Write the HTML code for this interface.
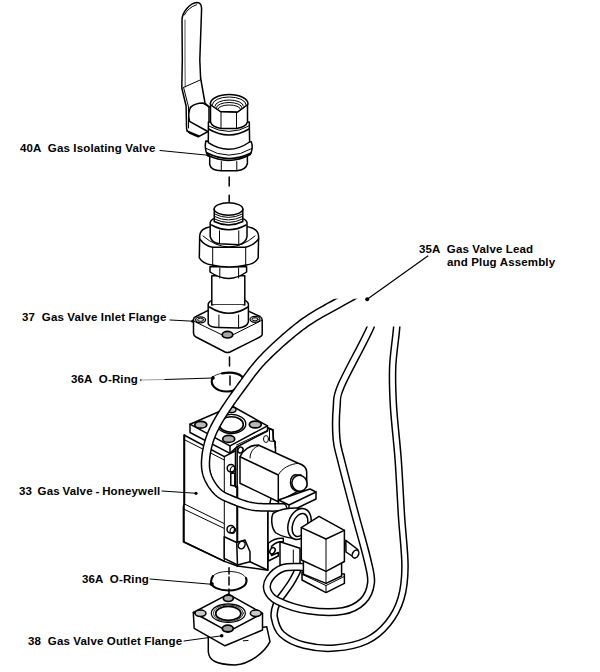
<!DOCTYPE html>
<html><head><meta charset="utf-8">
<style>
html,body{margin:0;padding:0;background:#fff;}
body{width:600px;height:672px;position:relative;overflow:hidden;font-family:"Liberation Sans",sans-serif;}
.t{position:absolute;font-weight:bold;font-size:11.5px;line-height:11px;color:#000;white-space:pre;letter-spacing:0.15px;}
svg{position:absolute;left:0;top:0;}
.d{stroke-width:1;}
.w{fill:#fff;}
</style></head><body>
<div class="t" id="l40" style="left:20px;top:142.5px">40A  Gas Isolating Valve</div>
<div class="t" id="l37" style="left:22px;top:311.5px">37  Gas Valve Inlet Flange</div>
<div class="t" id="l36a" style="left:71px;top:374px">36A  O-Ring</div>
<div class="t" id="l33" style="left:19px;top:486px;word-spacing:-0.6px">33  Gas Valve - Honeywell</div>
<div class="t" id="l36b" style="left:82px;top:574px">36A  O-Ring</div>
<div class="t" id="l38" style="left:28px;top:635.5px">38  Gas Valve Outlet Flange</div>
<div class="t" id="l35" style="left:419px;top:243.5px">35A  Gas Valve Lead</div>
<div class="t" id="l35b" style="left:447px;top:257px">and Plug Assembly</div>
<svg width="600" height="672" viewBox="0 0 600 672" fill="none" stroke="#000" stroke-width="1.5" stroke-linecap="round" stroke-linejoin="round">
<!-- ===== ISOLATING VALVE ===== -->
<g id="handle">
<path class="w" d="M182.3,60 L182,20 C182,12 190,3 197,2.5 C201,2.5 202,6 201.5,12 L199.8,60 L200.6,78 L205,103 L209,107 L209,131 L198.2,136.8 L189.5,133 Q186.6,131 186.6,129 L186.1,106 L181.8,88 Z"/>
<path class="d" d="M184.3,15 C187,10 191,6.5 196.5,4.8"/>
<path class="d" d="M185,20 L185,60 L185.2,87" stroke="#555"/>
<path class="d" d="M183.2,87.6 L200.6,79.8"/>
<path class="d" d="M183.7,88 L188.5,107 L188.5,128"/>
<path d="M190.5,107.4 C193,105 198,103 203,103 L209.3,106.9"/>
<path d="M190.5,107.4 C188.5,111 188.8,118 189.5,121.4 L206.9,131"/>
<path d="M187,131 L199,136"/>
</g>
<g id="valve40">
<!-- body lower flange and hex -->
<path class="w" d="M209.7,156 L209.7,164.5 Q211,170.5 221.3,170.8 L236.8,170.8 Q246,170 247.4,163.5 L247.4,156 Z"/>
<path class="d" d="M221.3,161.5 L221.3,170.8 M236.8,161.5 L236.8,170.8"/>
<path class="w" d="M205.8,141 C205,145 205,150 207.3,155 Q229,166 250.3,154.5 C252.5,150 252.5,145 251.3,141.8 Z"/>
<path class="d" d="M206.3,148.5 Q229,162 251.8,148.5"/>
<path d="M207.3,153 Q229,164 251,153" stroke-width="1.7"/>
<path class="w" d="M208.4,122 L208.3,142.7 Q229,156.3 249.6,142 L249.3,122 Z"/>
<path class="d" d="M208.6,126 Q229,137 249,126"/>
<path d="M208.6,129 Q229,141 249,129"/>
<!-- hex -->
<path class="w" d="M210.5,103 L210.5,122 Q212,127 221,128.5 L236.5,128.5 Q246,127 247.5,122 L247.5,104 Z"/>
<path d="M211,105 L220.5,111.5 L237.5,112 L247,105"/>
<path class="d" d="M221,112 L221,128.5 M236.5,112 L236.5,128.5"/>
<!-- top rim -->
<path class="w" d="M210.4,104 A18.8,9.5 0 0 1 248,104 L247,105 L237.5,112 L220.5,111.5 L211,105 Z"/>
<path class="d" d="M212.4,104.5 A16.8,7.5 0 0 1 246,104.5"/>
<path class="d" d="M215,106 A14.2,6 0 0 1 243.4,106 M216.5,107.5 A12.7,5 0 0 1 241.9,107.5 M218,109 A11.2,4 0 0 1 240.4,109"/>
</g>
<path class="d" d="M160,150.5 L208.5,155.3"/>
<circle cx="208.5" cy="155.3" r="1.6" fill="#000" stroke="none"/>
<path d="M229.2,177 L229.2,186 M229.2,195.3 L229.2,204.6"/>
<!-- ===== INLET FLANGE / UNION ===== -->
<g id="union">
<!-- flange plate -->
<path class="w" d="M193.5,319.5 Q193.5,317.5 196,316.5 L207.7,310.6 L247.3,310.6 L260,316.5 Q262.2,318 262.2,320 L262.2,334.7 Q262,336 259,337.5 L230,352 Q227.5,353 225,352 L196,337 Q193.5,335.5 193.5,333 Z"/>
<path class="d" d="M194.5,321.5 L227.5,337.5 L261.5,320.5"/>
<ellipse cx="200.6" cy="319.8" rx="5" ry="3" stroke-width="1.2" fill="#e0e0e0"/>
<ellipse class="d" cx="200.6" cy="319.8" rx="3" ry="1.6"/>
<ellipse cx="255" cy="319.3" rx="5" ry="3" stroke-width="1.2" fill="#e0e0e0"/>
<ellipse class="d" cx="255" cy="319.3" rx="3" ry="1.6"/>
<ellipse cx="227.5" cy="334.7" rx="5.3" ry="3.3" stroke-width="1.7" fill="#a8a8a8"/>
<!-- lower hex -->
<path class="w" d="M208.2,304 Q210,298 228.75,297.5 Q247,298 248.4,304 L248.4,322 Q247,327 238.6,328 L218.9,327.5 Q210,327.5 208.2,323.9 Z"/>
<path d="M209.5,307 Q228.75,319.4 248,307"/>
<path class="d" d="M218.9,315 L218.9,327.5 M238.6,315 L238.6,328"/>
<!-- pipe -->
<path class="w" d="M211.8,275.7 L211.8,305 L244.8,305 L244.8,275.7 Z"/>
<path d="M211.8,305 Q228,312 244.8,305" stroke="none" class="w"/>
<!-- neck -->
<path class="w" d="M210,266.8 L210,272 Q228.75,284.8 246.6,272 L246.6,266.8 Z"/>
<path class="d" d="M219.8,268 L219.8,278 M238.6,268 L238.6,278"/>
<!-- big union nut -->
<path class="w" d="M199.7,236 C200,229 206,225.5 229,225 C252,225.5 258,229 258.6,236 L258.2,257.9 Q255,264 246.6,265 Q229,269 211.8,265 Q203,264 199.3,257.9 Z"/>
<path class="d" d="M203,236 Q229,258 255,236"/>
<path d="M199.7,239 Q205,246 212.5,247.2 L245.2,247.2 Q253,246 258.6,239"/>
<path class="d" d="M212.7,247.2 L212.7,265 M245.7,247.2 L245.7,265"/>
<!-- small hex -->
<path class="w" d="M210.2,222.5 Q211,217 228,216.5 Q246,217 247,222.5 L247,236.7 Q246,243 238.75,244.8 L219.5,243.7 Q212,243 210.2,236.7 Z"/>
<path d="M211.5,225 Q228.8,234.5 246,225"/>
<path class="d" d="M219.5,230.8 L219.5,243.7 M238.75,230.8 L238.75,244.8"/>
<!-- nipple -->
<path class="w" d="M214.25,209 L214.25,221.5 Q228.5,228.5 242.8,221.5 L242.8,209 Z"/>
<ellipse class="w" cx="228.5" cy="209" rx="14.3" ry="6.2"/>
<path class="d" d="M214.5,214 Q228.5,221 242.5,214 M214.5,216.5 Q228.5,223.5 242.5,216.5 M214.5,219 Q228.5,226 242.5,219"/>
</g>
<path class="d" d="M170,320 L192.8,321.2"/>
<circle cx="192.8" cy="321.2" r="1.6" fill="#000" stroke="none"/>
<path d="M229.5,357 L229.5,366"/>
<!-- O-ring top -->
<path d="M213,377 C215,375 218,374 222,373.3" stroke-width="0.8"/>
<path d="M222,373.3 C230,372 238,373 242,376.5 C246,382 240,391.5 227.2,391.5 C215,391.5 209,384 213,377" stroke-width="2.2"/>
<path d="M230,376 L230,385"/>
<path d="M141,380 L165,379.5" stroke="#888" stroke-width="0.8"/>
<path d="M165,379.5 L213,378" stroke-width="1.1"/>
<circle cx="140.8" cy="380" r="0.8" fill="#000" stroke="none"/>
<circle cx="213" cy="378" r="1.8" fill="#000" stroke="none"/>

<!-- ===== GAS VALVE BODY ===== -->
<g id="gv">
<!-- left block -->
<path class="w" d="M184,435 L224.3,456.7 L237,450 L237.4,566 L224.5,561.4 L184,542 Z"/>
<path class="d" d="M184,439.5 L224.3,460"/>
<path class="d" d="M184.5,504 L224,523.5 M183.6,509 L224,528.3"/>
<path class="d" d="M224.3,456.7 L224.3,561.4"/>
<path d="M184.5,435 L184.5,503.5 L183.4,506.5 L183.4,541.7 L224.5,561.4"/>
<!-- front body -->
<path class="w" d="M235.6,447 L268,428 L273,430 L273.5,440 L275,441.5 L275.5,450 L275,480 L268,512 L268,570.3 L237.4,566 L237.4,487 L235.6,487 Z"/>
<path d="M250,561.7 L267.5,570"/>
<path class="d" d="M267.5,512.8 L267.5,570.3"/>
<path d="M235.6,447 L235.6,487 M237.4,486 L237.4,566"/>
<path class="d" d="M237.4,447 L237.4,486"/>
<path d="M235.8,445 L268,428 L273,430 L273.3,440 L275,441.5 L275.5,448"/>
<path class="d" d="M269.5,429 L269.5,441 L275,441.5"/>
<ellipse class="d" cx="266" cy="439" rx="2.5" ry="3.5"/>
<!-- top plate -->
<path class="w" d="M190,424.2 L232,406 L267.5,425.8 L267.5,431 L236.7,447 L230,453.3 L190,432.5 Z"/>
<path d="M190,424.2 L230,445.8 L267.5,425.8"/>
<path d="M230,445.8 L230,453.3"/>
<path class="d" d="M236.7,445 L268.3,430"/>
<ellipse cx="231.3" cy="424" rx="14.5" ry="9.6" stroke-width="1.4"/>
<ellipse cx="231.3" cy="424.5" rx="12" ry="7.8" stroke-width="1.6"/>
<ellipse cx="200.8" cy="424.7" rx="6" ry="3.4" fill="#b8b8b8" stroke-width="1.7"/>
<ellipse cx="231.5" cy="409.8" rx="4.5" ry="2.7" fill="#c8c8c8" stroke-width="1.4"/>
<ellipse cx="255.3" cy="424.5" rx="6" ry="3.4" fill="#b8b8b8" stroke-width="1.7"/>
<ellipse cx="228.7" cy="438.9" rx="6" ry="3.5" fill="#b0b0b0" stroke-width="1.7"/>
<!-- knobs on front strip -->
<path class="w" d="M230.8,473.3 L230.8,485.2 L234.8,486 L234.8,473.3 Z"/>
<ellipse class="w" cx="231" cy="468.3" rx="3.8" ry="3.8"/>
<ellipse class="d" cx="233" cy="469.5" rx="2.6" ry="3" transform="rotate(30 233 469.5)"/>
<ellipse class="w" cx="240.4" cy="450" rx="2.5" ry="3" transform="rotate(30 240.4 450)"/>
<ellipse class="w" cx="230.8" cy="529.2" rx="3.8" ry="3.8"/>
<ellipse class="d" cx="232.8" cy="530.4" rx="2.6" ry="3" transform="rotate(30 232.8 530.4)"/>
<!-- bracket box -->
<path class="w" d="M224.2,536.7 L236.7,542.5 L245,540 L250,551.7 L250,561.7 L237.5,565 L224.2,558.3 Z"/>
<path d="M236.7,542.5 L237.5,565"/>
<ellipse class="w" cx="241.7" cy="545" rx="3.2" ry="4" transform="rotate(30 241.7 545)"/>
<!-- right tab -->
<path class="w" d="M280,541.7 L300,548.3 L300,572 L280,565 Z"/>
<path class="d" d="M293.3,550 L293.3,567"/>
<path class="w" d="M268.3,543.3 C272,540 278,538 283.3,538.3 L283.3,541.5 C279,541.5 274,543.5 271.5,546.5 L271.5,555.5 L278.3,552.5 L278.3,556 L268.3,561 Z"/>
<ellipse class="w" cx="272.5" cy="550.8" rx="2.4" ry="3.4" transform="rotate(30 272.5 550.8)"/>
</g>
<!-- ===== SOLENOID ===== -->
<g id="sol">
<path class="w" d="M240,456.7 C243,450 250,445 258.3,445 L298.3,463.3 C304,465 306.7,468 306.7,472 L306.7,486.7 L278.3,501.7 L240,483.3 Z"/>
<path d="M240,456.7 L278.3,475 L278.3,501.7"/>
<path class="d" d="M278.3,475 C282,468 290,464 298.3,463.3"/>
<path class="d" d="M250,458 C250,452 254,447 258.3,446"/>
<path class="w" d="M297,475 C293,474 290,478 290.5,483 C291,488 294,491 298,491.5 L301,491 L301,475 Z"/>
<ellipse class="w" cx="299.5" cy="483.3" rx="7.5" ry="8" transform="rotate(-20 299.5 483.3)"/>
<!-- bracket slab -->
<path class="w" d="M278.5,500 L310,489 L316,492 L316,499 L289,512 L278.5,507 Z"/>
<path d="M289,505 L316,492 M289,505 L289,512 M278.5,500 L289,505"/>
</g>
<!-- ===== CABLES ===== -->
<path d="M396.7,300.0 C396.7,304.4 397.4,315.6 396.7,326.7 C396.0,337.8 393.2,353.4 392.7,366.7 C392.2,380.0 392.6,391.1 393.5,406.7 C394.4,422.2 396.9,441.8 398.2,460.0 C399.5,478.2 400.4,498.2 401.5,516.0 C402.6,533.8 405.1,552.9 405.0,566.7 C404.9,580.5 403.8,589.3 401.0,598.7 C398.2,608.1 393.7,616.3 388.0,623.3 C382.3,630.3 375.8,636.4 367.0,640.5 C358.2,644.6 345.4,647.2 335.0,648.0 C324.6,648.8 313.2,647.6 304.3,645.3 C295.4,643.0 286.7,638.7 281.7,634.0 C276.7,629.3 275.2,622.3 274.3,617.3 C273.4,612.3 274.9,608.0 276.5,604.0 C278.1,600.0 281.6,596.5 284.0,593.0 C286.4,589.5 289.0,586.2 291.0,583.0 C293.0,579.8 294.8,576.3 296.0,574.0 C297.2,571.7 297.7,569.8 298.0,569.0" stroke-width="7.70" stroke-linecap="butt"/>
<path d="M396.7,300.0 C396.7,304.4 397.4,315.6 396.7,326.7 C396.0,337.8 393.2,353.4 392.7,366.7 C392.2,380.0 392.6,391.1 393.5,406.7 C394.4,422.2 396.9,441.8 398.2,460.0 C399.5,478.2 400.4,498.2 401.5,516.0 C402.6,533.8 405.1,552.9 405.0,566.7 C404.9,580.5 403.8,589.3 401.0,598.7 C398.2,608.1 393.7,616.3 388.0,623.3 C382.3,630.3 375.8,636.4 367.0,640.5 C358.2,644.6 345.4,647.2 335.0,648.0 C324.6,648.8 313.2,647.6 304.3,645.3 C295.4,643.0 286.7,638.7 281.7,634.0 C276.7,629.3 275.2,622.3 274.3,617.3 C273.4,612.3 274.9,608.0 276.5,604.0 C278.1,600.0 281.6,596.5 284.0,593.0 C286.4,589.5 289.0,586.2 291.0,583.0 C293.0,579.8 294.8,576.3 296.0,574.0 C297.2,571.7 297.7,569.8 298.0,569.0" stroke="#fff" stroke-width="4.70" stroke-linecap="butt"/>
<path d="M372.0,310.0 C371.8,312.8 375.8,314.1 370.7,326.7 C365.6,339.2 347.0,372.0 341.3,385.3 C335.6,398.6 337.5,397.8 336.7,406.7 C335.9,415.6 335.8,429.8 336.5,438.7 C337.2,447.6 338.1,448.1 341.0,460.0 C343.9,471.9 349.6,493.3 354.0,510.0 C358.4,526.7 364.7,547.8 367.5,560.0 C370.3,572.2 371.8,576.2 371.0,583.0 C370.2,589.8 367.7,596.3 363.0,601.0 C358.3,605.7 352.1,609.4 343.0,611.0 C333.9,612.6 319.2,612.2 308.3,610.5 C297.4,608.8 284.5,604.3 277.7,601.0 C270.9,597.7 269.0,594.4 267.6,590.7 C266.2,587.0 267.0,582.4 269.6,578.6 C272.2,574.8 277.4,569.9 283.0,568.0 C288.6,566.1 299.7,567.2 303.0,567.0" stroke-width="8.30" stroke-linecap="butt"/>
<path d="M372.0,310.0 C371.8,312.8 375.8,314.1 370.7,326.7 C365.6,339.2 347.0,372.0 341.3,385.3 C335.6,398.6 337.5,397.8 336.7,406.7 C335.9,415.6 335.8,429.8 336.5,438.7 C337.2,447.6 338.1,448.1 341.0,460.0 C343.9,471.9 349.6,493.3 354.0,510.0 C358.4,526.7 364.7,547.8 367.5,560.0 C370.3,572.2 371.8,576.2 371.0,583.0 C370.2,589.8 367.7,596.3 363.0,601.0 C358.3,605.7 352.1,609.4 343.0,611.0 C333.9,612.6 319.2,612.2 308.3,610.5 C297.4,608.8 284.5,604.3 277.7,601.0 C270.9,597.7 269.0,594.4 267.6,590.7 C266.2,587.0 267.0,582.4 269.6,578.6 C272.2,574.8 277.4,569.9 283.0,568.0 C288.6,566.1 299.7,567.2 303.0,567.0" stroke="#fff" stroke-width="5.30" stroke-linecap="butt"/>
<rect x="355" y="290" width="60" height="36.5" fill="#fff" stroke="none"/>
<path d="M369.56,279.64 L368.45,280.26 L367.14,281.00 L365.63,281.85 L363.95,282.79 L362.12,283.82 L360.15,284.92 L358.08,286.09 L355.90,287.31 L353.66,288.58 L351.37,289.88 L349.04,291.20 L346.69,292.53 L344.35,293.87 L342.04,295.20 L339.77,296.51 L337.58,297.79 L335.44,299.03 L333.27,300.25 L331.07,301.48 L328.83,302.71 L326.56,303.96 L324.25,305.23 L321.92,306.53 L319.57,307.85 L317.19,309.21 L314.79,310.61 L312.38,312.06 L309.96,313.57 L307.53,315.13 L305.09,316.76 L302.65,318.46 L300.22,320.23 L297.78,322.08 L295.29,324.01 L292.76,326.03 L290.20,328.12 L287.63,330.26 L285.05,332.46 L282.47,334.69 L279.91,336.95 L277.37,339.22 L274.87,341.50 L272.42,343.78 L270.03,346.03 L267.71,348.26 L265.47,350.45 L263.33,352.59 L261.29,354.67 L259.34,356.72 L257.48,358.75 L255.70,360.75 L254.01,362.73 L252.39,364.70 L250.83,366.64 L249.32,368.56 L247.87,370.47 L246.45,372.37 L245.07,374.25 L243.71,376.12 L242.37,377.99 L241.04,379.85 L239.71,381.71 L238.37,383.56 L237.01,385.43 L235.62,387.34 L234.21,389.28 L232.81,391.23 L231.40,393.20 L230.00,395.18 L228.62,397.16 L227.25,399.13 L225.90,401.10 L224.57,403.05 L223.28,404.98 L222.02,406.89 L220.80,408.76 L219.62,410.60 L218.50,412.40 L217.42,414.15 L216.40,415.85 L215.45,417.48 L214.54,419.06 L213.68,420.59 L212.87,422.07 L212.09,423.53 L211.35,424.95 L210.65,426.35 L209.99,427.73 L209.35,429.10 L208.75,430.46 L208.17,431.82 L207.62,433.17 L207.09,434.54 L206.58,435.91 L206.09,437.30 L205.61,438.72 L205.15,440.17 L204.72,441.64 L204.32,443.12 L203.94,444.60 L203.59,446.09 L203.27,447.58 L202.97,449.05 L202.70,450.53 L202.46,451.98 L202.24,453.43 L202.05,454.85 L201.89,456.25 L201.75,457.62 L201.64,458.96 L201.56,460.27 L201.50,461.54 L201.46,462.77 L201.46,463.97 L201.47,465.14 L201.52,466.29 L201.59,467.42 L201.69,468.53 L201.82,469.62 L201.98,470.70 L202.17,471.76 L202.39,472.81 L202.64,473.85 L202.92,474.88 L203.23,475.90 L203.57,476.93 L203.94,477.94 L204.34,478.97 L204.79,480.02 L205.28,481.09 L205.80,482.14 L206.36,483.20 L206.95,484.24 L207.57,485.28 L208.21,486.30 L208.88,487.31 L209.57,488.30 L210.28,489.27 L211.00,490.22 L211.74,491.14 L212.49,492.02 L213.25,492.88 L214.02,493.69 L214.79,494.47 L215.56,495.19 L216.32,495.87 L217.08,496.50 L217.85,497.10 L218.63,497.65 L219.42,498.18 L220.22,498.67 L221.04,499.13 L221.87,499.58 L222.72,500.00 L223.60,500.41 L224.50,500.82 L225.44,501.23 L226.42,501.65 L227.45,502.08 L228.53,502.52 L229.66,502.99 L230.85,503.48 L232.09,504.00 L233.39,504.53 L234.74,505.07 L236.14,505.61 L237.58,506.16 L239.07,506.70 L240.61,507.23 L242.19,507.74 L243.80,508.23 L245.46,508.69 L247.15,509.13 L248.87,509.52 L250.63,509.87 L252.43,510.18 L254.33,510.43 L256.37,510.64 L258.51,510.79 L260.73,510.92 L263.00,511.01 L265.31,511.07 L267.62,511.10 L269.90,511.12 L272.14,511.13 L274.30,511.12 L276.34,511.11 L278.25,511.10 L280.00,511.08 L281.54,511.08 L282.85,511.08 L283.92,511.10 L284.08,503.90 L282.95,503.87 L281.57,503.86 L279.99,503.85 L278.23,503.85 L276.32,503.85 L274.29,503.85 L272.17,503.84 L269.97,503.81 L267.74,503.78 L265.49,503.72 L263.27,503.65 L261.10,503.54 L259.01,503.41 L257.04,503.25 L255.22,503.05 L253.57,502.82 L252.01,502.55 L250.47,502.22 L248.94,501.86 L247.43,501.46 L245.94,501.03 L244.47,500.57 L243.03,500.09 L241.61,499.59 L240.23,499.08 L238.87,498.55 L237.55,498.03 L236.26,497.50 L235.01,496.98 L233.79,496.46 L232.61,495.96 L231.47,495.48 L230.40,495.03 L229.41,494.60 L228.49,494.20 L227.63,493.82 L226.84,493.46 L226.10,493.10 L225.42,492.75 L224.77,492.40 L224.17,492.05 L223.59,491.69 L223.03,491.31 L222.48,490.91 L221.93,490.48 L221.38,490.01 L220.80,489.50 L220.21,488.93 L219.61,488.32 L219.00,487.66 L218.38,486.95 L217.76,486.21 L217.15,485.43 L216.54,484.63 L215.95,483.80 L215.37,482.95 L214.81,482.09 L214.27,481.21 L213.75,480.33 L213.26,479.45 L212.81,478.58 L212.39,477.71 L212.00,476.86 L211.66,476.03 L211.34,475.19 L211.04,474.36 L210.78,473.54 L210.54,472.72 L210.33,471.91 L210.14,471.10 L209.97,470.27 L209.83,469.44 L209.71,468.59 L209.61,467.73 L209.54,466.83 L209.49,465.91 L209.46,464.96 L209.45,463.97 L209.47,462.93 L209.50,461.86 L209.56,460.74 L209.65,459.58 L209.76,458.38 L209.89,457.15 L210.05,455.88 L210.23,454.59 L210.44,453.28 L210.67,451.95 L210.93,450.61 L211.21,449.26 L211.51,447.91 L211.84,446.57 L212.19,445.23 L212.57,443.90 L212.96,442.58 L213.39,441.28 L213.83,440.00 L214.29,438.73 L214.76,437.48 L215.25,436.24 L215.76,435.01 L216.30,433.79 L216.86,432.55 L217.45,431.30 L218.08,430.04 L218.73,428.75 L219.43,427.42 L220.17,426.06 L220.96,424.66 L221.79,423.21 L222.67,421.71 L223.60,420.15 L224.58,418.54 L225.62,416.87 L226.72,415.14 L227.88,413.37 L229.08,411.56 L230.32,409.71 L231.60,407.83 L232.91,405.93 L234.25,404.01 L235.62,402.07 L236.99,400.14 L238.39,398.20 L239.79,396.27 L241.19,394.35 L242.59,392.45 L243.99,390.57 L245.38,388.69 L246.76,386.81 L248.11,384.95 L249.45,383.11 L250.79,381.27 L252.14,379.45 L253.50,377.62 L254.88,375.80 L256.29,373.98 L257.74,372.16 L259.24,370.32 L260.79,368.48 L262.40,366.62 L264.09,364.75 L265.85,362.85 L267.71,360.93 L269.69,358.94 L271.78,356.88 L273.98,354.77 L276.25,352.62 L278.60,350.44 L281.01,348.24 L283.47,346.03 L285.97,343.83 L288.49,341.64 L291.02,339.48 L293.56,337.36 L296.08,335.29 L298.57,333.29 L301.03,331.36 L303.44,329.51 L305.78,327.77 L308.07,326.13 L310.37,324.56 L312.67,323.05 L314.98,321.59 L317.30,320.18 L319.61,318.81 L321.93,317.47 L324.25,316.17 L326.56,314.90 L328.86,313.64 L331.16,312.40 L333.44,311.17 L335.72,309.94 L337.97,308.70 L340.22,307.46 L342.42,306.21 L344.62,304.95 L346.88,303.67 L349.18,302.37 L351.51,301.06 L353.85,299.75 L356.18,298.45 L358.48,297.18 L360.72,295.94 L362.89,294.74 L364.97,293.59 L366.94,292.50 L368.78,291.49 L370.47,290.56 L371.99,289.72 L373.33,288.98 L374.44,288.36 Z" fill="#fff" stroke="none"/>
<path d="M369.56,279.64 L368.45,280.26 L367.14,281.00 L365.63,281.85 L363.95,282.79 L362.12,283.82 L360.15,284.92 L358.08,286.09 L355.90,287.31 L353.66,288.58 L351.37,289.88 L349.04,291.20 L346.69,292.53 L344.35,293.87 L342.04,295.20 L339.77,296.51 L337.58,297.79 L335.44,299.03 L333.27,300.25 L331.07,301.48 L328.83,302.71 L326.56,303.96 L324.25,305.23 L321.92,306.53 L319.57,307.85 L317.19,309.21 L314.79,310.61 L312.38,312.06 L309.96,313.57 L307.53,315.13 L305.09,316.76 L302.65,318.46 L300.22,320.23 L297.78,322.08 L295.29,324.01 L292.76,326.03 L290.20,328.12 L287.63,330.26 L285.05,332.46 L282.47,334.69 L279.91,336.95 L277.37,339.22 L274.87,341.50 L272.42,343.78 L270.03,346.03 L267.71,348.26 L265.47,350.45 L263.33,352.59 L261.29,354.67 L259.34,356.72 L257.48,358.75 L255.70,360.75 L254.01,362.73 L252.39,364.70 L250.83,366.64 L249.32,368.56 L247.87,370.47 L246.45,372.37 L245.07,374.25 L243.71,376.12 L242.37,377.99 L241.04,379.85 L239.71,381.71 L238.37,383.56 L237.01,385.43 L235.62,387.34 L234.21,389.28 L232.81,391.23 L231.40,393.20 L230.00,395.18 L228.62,397.16 L227.25,399.13 L225.90,401.10 L224.57,403.05 L223.28,404.98 L222.02,406.89 L220.80,408.76 L219.62,410.60 L218.50,412.40 L217.42,414.15 L216.40,415.85 L215.45,417.48 L214.54,419.06 L213.68,420.59 L212.87,422.07 L212.09,423.53 L211.35,424.95 L210.65,426.35 L209.99,427.73 L209.35,429.10 L208.75,430.46 L208.17,431.82 L207.62,433.17 L207.09,434.54 L206.58,435.91 L206.09,437.30 L205.61,438.72 L205.15,440.17 L204.72,441.64 L204.32,443.12 L203.94,444.60 L203.59,446.09 L203.27,447.58 L202.97,449.05 L202.70,450.53 L202.46,451.98 L202.24,453.43 L202.05,454.85 L201.89,456.25 L201.75,457.62 L201.64,458.96 L201.56,460.27 L201.50,461.54 L201.46,462.77 L201.46,463.97 L201.47,465.14 L201.52,466.29 L201.59,467.42 L201.69,468.53 L201.82,469.62 L201.98,470.70 L202.17,471.76 L202.39,472.81 L202.64,473.85 L202.92,474.88 L203.23,475.90 L203.57,476.93 L203.94,477.94 L204.34,478.97 L204.79,480.02 L205.28,481.09 L205.80,482.14 L206.36,483.20 L206.95,484.24 L207.57,485.28 L208.21,486.30 L208.88,487.31 L209.57,488.30 L210.28,489.27 L211.00,490.22 L211.74,491.14 L212.49,492.02 L213.25,492.88 L214.02,493.69 L214.79,494.47 L215.56,495.19 L216.32,495.87 L217.08,496.50 L217.85,497.10 L218.63,497.65 L219.42,498.18 L220.22,498.67 L221.04,499.13 L221.87,499.58 L222.72,500.00 L223.60,500.41 L224.50,500.82 L225.44,501.23 L226.42,501.65 L227.45,502.08 L228.53,502.52 L229.66,502.99 L230.85,503.48 L232.09,504.00 L233.39,504.53 L234.74,505.07 L236.14,505.61 L237.58,506.16 L239.07,506.70 L240.61,507.23 L242.19,507.74 L243.80,508.23 L245.46,508.69 L247.15,509.13 L248.87,509.52 L250.63,509.87 L252.43,510.18 L254.33,510.43 L256.37,510.64 L258.51,510.79 L260.73,510.92 L263.00,511.01 L265.31,511.07 L267.62,511.10 L269.90,511.12 L272.14,511.13 L274.30,511.12 L276.34,511.11 L278.25,511.10 L280.00,511.08 L281.54,511.08 L282.85,511.08 L283.92,511.10" stroke-width="1.50"/>
<path d="M374.44,288.36 L373.33,288.98 L371.99,289.72 L370.47,290.56 L368.78,291.49 L366.94,292.50 L364.97,293.59 L362.89,294.74 L360.72,295.94 L358.48,297.18 L356.18,298.45 L353.85,299.75 L351.51,301.06 L349.18,302.37 L346.88,303.67 L344.62,304.95 L342.42,306.21 L340.22,307.46 L337.97,308.70 L335.72,309.94 L333.44,311.17 L331.16,312.40 L328.86,313.64 L326.56,314.90 L324.25,316.17 L321.93,317.47 L319.61,318.81 L317.30,320.18 L314.98,321.59 L312.67,323.05 L310.37,324.56 L308.07,326.13 L305.78,327.77 L303.44,329.51 L301.03,331.36 L298.57,333.29 L296.08,335.29 L293.56,337.36 L291.02,339.48 L288.49,341.64 L285.97,343.83 L283.47,346.03 L281.01,348.24 L278.60,350.44 L276.25,352.62 L273.98,354.77 L271.78,356.88 L269.69,358.94 L267.71,360.93 L265.85,362.85 L264.09,364.75 L262.40,366.62 L260.79,368.48 L259.24,370.32 L257.74,372.16 L256.29,373.98 L254.88,375.80 L253.50,377.62 L252.14,379.45 L250.79,381.27 L249.45,383.11 L248.11,384.95 L246.76,386.81 L245.38,388.69 L243.99,390.57 L242.59,392.45 L241.19,394.35 L239.79,396.27 L238.39,398.20 L236.99,400.14 L235.62,402.07 L234.25,404.01 L232.91,405.93 L231.60,407.83 L230.32,409.71 L229.08,411.56 L227.88,413.37 L226.72,415.14 L225.62,416.87 L224.58,418.54 L223.60,420.15 L222.67,421.71 L221.79,423.21 L220.96,424.66 L220.17,426.06 L219.43,427.42 L218.73,428.75 L218.08,430.04 L217.45,431.30 L216.86,432.55 L216.30,433.79 L215.76,435.01 L215.25,436.24 L214.76,437.48 L214.29,438.73 L213.83,440.00 L213.39,441.28 L212.96,442.58 L212.57,443.90 L212.19,445.23 L211.84,446.57 L211.51,447.91 L211.21,449.26 L210.93,450.61 L210.67,451.95 L210.44,453.28 L210.23,454.59 L210.05,455.88 L209.89,457.15 L209.76,458.38 L209.65,459.58 L209.56,460.74 L209.50,461.86 L209.47,462.93 L209.45,463.97 L209.46,464.96 L209.49,465.91 L209.54,466.83 L209.61,467.73 L209.71,468.59 L209.83,469.44 L209.97,470.27 L210.14,471.10 L210.33,471.91 L210.54,472.72 L210.78,473.54 L211.04,474.36 L211.34,475.19 L211.66,476.03 L212.00,476.86 L212.39,477.71 L212.81,478.58 L213.26,479.45 L213.75,480.33 L214.27,481.21 L214.81,482.09 L215.37,482.95 L215.95,483.80 L216.54,484.63 L217.15,485.43 L217.76,486.21 L218.38,486.95 L219.00,487.66 L219.61,488.32 L220.21,488.93 L220.80,489.50 L221.38,490.01 L221.93,490.48 L222.48,490.91 L223.03,491.31 L223.59,491.69 L224.17,492.05 L224.77,492.40 L225.42,492.75 L226.10,493.10 L226.84,493.46 L227.63,493.82 L228.49,494.20 L229.41,494.60 L230.40,495.03 L231.47,495.48 L232.61,495.96 L233.79,496.46 L235.01,496.98 L236.26,497.50 L237.55,498.03 L238.87,498.55 L240.23,499.08 L241.61,499.59 L243.03,500.09 L244.47,500.57 L245.94,501.03 L247.43,501.46 L248.94,501.86 L250.47,502.22 L252.01,502.55 L253.57,502.82 L255.22,503.05 L257.04,503.25 L259.01,503.41 L261.10,503.54 L263.27,503.65 L265.49,503.72 L267.74,503.78 L269.97,503.81 L272.17,503.84 L274.29,503.85 L276.32,503.85 L278.23,503.85 L279.99,503.85 L281.57,503.86 L282.95,503.87 L284.08,503.90" stroke-width="1.50"/>
<rect x="330" y="276" width="45" height="22.7" fill="#fff" stroke="none"/>
<path d="M284,503.5 Q289.5,507.5 284,511.5"/>

<path d="M427.8,256 L367.2,299.3" stroke-width="1.2"/>
<circle cx="367.2" cy="299.3" r="2" fill="#000" stroke="none"/>
<!-- ===== CONNECTOR ===== -->
<g id="conn">
<path class="w" d="M273,513.5 C280,509 292,507 302,508.5 L300,538 C292,539 282,537 276,533 C271,528 271,518 273,513.5 Z"/>
<ellipse class="w" cx="299.5" cy="524" rx="11" ry="16" transform="rotate(20 299.5 524)"/>
<ellipse cx="300" cy="525" rx="7.2" ry="12" transform="rotate(20 300 525)"/>
<path class="w" d="M345.8,540.3 L357.8,549.5 L355,558 L346,552 Z"/>
<ellipse class="w" cx="355.5" cy="554" rx="3" ry="4.2" transform="rotate(30 355.5 554)"/>
<path class="w" d="M302,572 L302,580 L326,592.6 L344.4,583.4 L344.4,574 Z"/>
<path class="d" d="M302,574.3 L326,585.5 L344.4,576.4 M326,585.5 L326,592.6"/>
<path class="w" d="M303.4,558 L303.4,574.3 L326,583.4 L341.6,576 L341.6,560 Z"/>
<path class="d" d="M326,571.4 L326,583.4"/>
<path class="w" d="M301.3,527.6 L319,516.3 L344.4,530.4 L344.4,561.5 L326,571.4 L301.3,560 Z"/>
<path d="M301.3,527.6 L326,539 L344.4,530.4"/>
<path class="d" d="M326,539 L326,571.4"/>
</g>
<!-- ===== LOWER O-RING & OUTLET FLANGE ===== -->
<path d="M229,567.8 L229,574"/>
<path d="M213,576 C216,573 221,571.5 228.6,571.5 C238,571.5 244,574 246,578" stroke-width="0.9"/>
<path d="M246,578 C247,580 246.6,584 244,586 C240,589 235,590.5 228.6,590.5 C219,590.5 211,587 211,582 C211,580 211.5,578 213,576" stroke-width="2.1"/>
<path d="M229,577 L229,585 M229,589 L229,595.3"/>
<path class="d" d="M150,579 L211.7,584.3"/>
<circle cx="211.7" cy="584" r="2.1" fill="#000" stroke="none"/>
<g id="outlet">
<path class="w" d="M208.3,636 L208.3,651.7 C209,660 215,664.5 235,665 C250,664 265,652 270,641.7 L266.7,626.7 Z"/>
<path class="w" d="M193.3,612.5 L228.3,594.2 L262.5,613.3 L262.5,630 L225,645.8 L194.2,628.3 Z"/>
<path d="M193.3,612.5 L228.3,631.7 L262.5,613.3"/>
<ellipse cx="228.3" cy="613.2" rx="17" ry="9.3" stroke-width="1.2"/>
<ellipse cx="228.3" cy="613.2" rx="15" ry="8.2" stroke-width="0.8"/>
<ellipse cx="228.3" cy="613.4" rx="12.6" ry="7" stroke-width="1.7"/>
<ellipse cx="228.3" cy="598.3" rx="5" ry="3.2" fill="#b0b0b0" stroke-width="1.7"/>
<ellipse cx="200.5" cy="613.3" rx="5.5" ry="3.2" fill="#c8c8c8" stroke-width="1.5"/>
<ellipse cx="255.8" cy="613.3" rx="5.5" ry="3.2" fill="#c8c8c8" stroke-width="1.5"/>
<ellipse cx="227.8" cy="628.6" rx="5.5" ry="3.4" fill="#a0a0a0" stroke-width="1.8"/>
<path class="d" d="M243.3,640.8 L248,640.5"/>
</g>
<path class="d" d="M184,641 L221.7,635.8"/>
<circle cx="221.7" cy="635.8" r="1.8" fill="#000" stroke="none"/>
<path class="d" d="M162,491 L196,493.3"/>
<circle cx="196" cy="493.3" r="1.6" fill="#000" stroke="none"/>
</svg>
</body></html>
